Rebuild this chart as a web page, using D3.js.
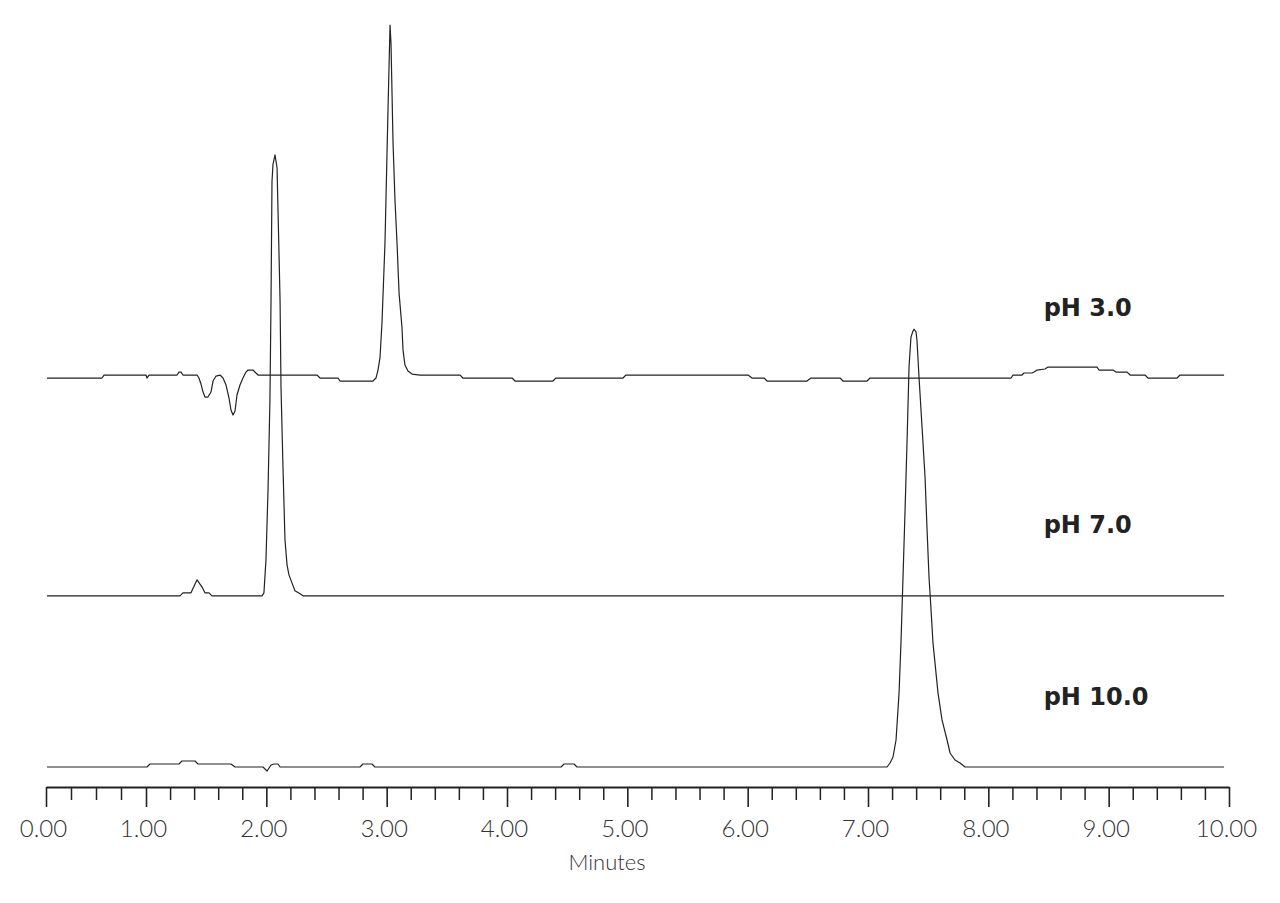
<!DOCTYPE html>
<html><head><meta charset="utf-8">
<script src="https://cdn.jsdelivr.net/npm/d3@7"></script>
<style>html,body{margin:0;padding:0;background:#fff;} svg{display:block;}</style>
</head><body>
<svg id="chart" width="1280" height="903"></svg>
<script>
// ---- data (time in minutes, signal in arbitrary absorbance units) ----
const ph3Time = [0.01,0.56,0.58,1.00,1.008,1.025,1.258,1.274,1.291,1.307,1.424,1.440,1.457,1.474,1.490,1.515,1.540,1.557,1.582,1.615,1.640,1.665,1.690,1.706,1.723,1.740,1.756,1.781,1.806,1.831,1.848,1.889,1.931,2.421,2.446,2.596,2.612,2.886,2.911,2.928,2.945,2.961,2.986,3.011,3.028,3.036,3.053,3.069,3.086,3.103,3.127,3.136,3.152,3.177,3.211,3.277,3.610,3.634,4.042,4.067,4.382,4.407,4.964,4.989,6.003,6.036,6.136,6.161,6.493,6.526,6.768,6.792,6.992,7.017,8.189,8.205,8.280,8.297,8.363,8.380,8.405,8.471,8.496,8.903,8.920,9.036,9.061,9.153,9.178,9.302,9.327,9.568,9.593,9.959];
const ph3Signal = [0,0,0.68,0.68,0,0.68,0.68,1.36,1.36,0.68,0.68,0,-1.36,-3.18,-4.32,-4.32,-3.18,-0.68,0.45,0.68,0,-1.59,-4.55,-7.27,-8.41,-7.5,-3.86,-1.59,0,1.36,1.82,1.82,0.68,0.68,0,0,-0.68,-0.68,0,1.82,4.77,12.5,30.7,60.9,80.2,76.1,53.4,40.5,30.7,19.3,11.6,6.36,2.95,1.59,0.91,0.68,0.68,0,0,-0.68,-0.68,0,0,0.68,0.68,0,0,-0.68,-0.68,0,0,-0.68,-0.68,0,0,0.68,0.68,1.14,1.14,1.36,1.82,2.05,2.5,2.5,1.82,1.82,1.36,1.36,0.68,0.68,0,0,0.68,0.68];

const ph7Time = [0.01,1.283,1.307,1.374,1.424,1.465,1.490,1.524,1.548,1.964,1.980,1.997,2.014,2.030,2.039,2.047,2.055,2.072,2.089,2.097,2.114,2.122,2.139,2.155,2.172,2.188,2.213,2.238,2.280,2.305,9.959];
const ph7Signal = [0,0,0.68,0.68,3.64,2.05,0.68,0.68,0,0,0.68,8.18,24,44.5,67.3,94.1,98,100.2,97.3,87.7,67.3,47.3,28.6,12.7,7.05,4.77,2.95,1.14,0.45,0,0];

const ph10Time = [0.01,1.008,1.033,1.274,1.299,1.407,1.432,1.706,1.740,1.972,2.006,2.039,2.064,2.097,2.114,2.778,2.803,2.878,2.903,4.449,4.474,4.557,4.582,7.158,7.183,7.208,7.233,7.258,7.274,7.291,7.308,7.324,7.341,7.357,7.374,7.382,7.399,7.407,7.424,7.449,7.474,7.490,7.507,7.524,7.540,7.582,7.615,7.657,7.682,7.723,7.765,7.806,9.959];
const ph10Signal = [0,0,0.68,0.68,1.36,1.36,0.68,0.68,0,0,-0.91,0.45,0.68,0.68,0,0,0.68,0.68,0,0,0.68,0.68,0,0,0.91,2.27,6.14,16.8,28.2,43.2,58.4,73.6,90.9,97.7,99.1,99.5,98.9,97.0,88.6,77.3,65.9,54.5,43.2,35.7,28.2,16.8,10.7,6.14,3.18,1.59,0.91,0,0];

const traceLabels = ["pH 3.0", "pH 7.0", "pH 10.0"];
const traceOffsets = [88.4, 38.9, 0];   // vertical stacking of chromatograms (signal units)

const majorTicks = [0,1,2,3,4,5,6,7,8,9,10];
const tickLabels = ["0.00","1.00","2.00","3.00","4.00","5.00","6.00","7.00","8.00","9.00","10.00"];
const minorTicks = [0.25,0.5,0.75].concat(d3.range(1,10).flatMap(m => [0.2,0.4,0.6,0.8].map(f => +(m+f).toFixed(1))));
const axisTitle = "Minutes";

// ---- chart ----
const svg = d3.select("#chart");
const ink = "#222";

const x = d3.scaleLinear().domain([0, 1, 10]).range([46, 146, 1229]);
const y = d3.scaleLinear().domain([0, 170]).range([767, 19]);

const traces = [
  {t: ph3Time, s: ph3Signal},
  {t: ph7Time, s: ph7Signal},
  {t: ph10Time, s: ph10Signal}
];

const line = d3.line().x(d => x(d[0])).y(d => y(d[1]));

traces.forEach((tr, i) => {
  const pts = tr.t.map((t, k) => [t, tr.s[k] + traceOffsets[i]]);
  svg.append("path")
    .datum(pts)
    .attr("d", line)
    .attr("fill", "none")
    .attr("stroke", ink)
    .attr("stroke-width", 1.2)
    .attr("stroke-linejoin", "round");
});

svg.selectAll("text.trace-label")
  .data(traceLabels)
  .join("text")
  .attr("class", "trace-label")
  .attr("x", x(8.46))
  .attr("y", (d, i) => y(traceOffsets[i] + 14.2))
  .attr("font-family", "'DejaVu Sans', sans-serif")
  .attr("font-weight", "bold")
  .attr("font-size", 24)
  .attr("fill", ink)
  .text(d => d);

// axis
const axisY = 787;
const gMinor = svg.append("g").attr("transform", `translate(0,${axisY})`)
  .call(d3.axisBottom(x).tickValues(minorTicks).tickSize(13).tickFormat(""));
gMinor.select(".domain").remove();
gMinor.selectAll("line").attr("stroke", ink).attr("stroke-width", 1.5);

const gMajor = svg.append("g").attr("transform", `translate(0,${axisY})`)
  .call(d3.axisBottom(x).tickValues(majorTicks).tickSize(20).tickSizeOuter(0)
        .tickFormat((d, i) => tickLabels[i]));
gMajor.select(".domain").attr("stroke", ink).attr("stroke-width", 2);
gMajor.selectAll("line").attr("stroke", ink).attr("stroke-width", 1.6);
gMajor.selectAll("text")
  .attr("y", 50).attr("dy", 0).attr("dx", -3)
  .attr("font-family", "Lato, 'Open Sans', sans-serif")
  .attr("font-weight", 300)
  .attr("font-size", 24)
  .attr("fill", "#333");

svg.append("text")
  .attr("x", 607).attr("y", 870)
  .attr("text-anchor", "middle")
  .attr("font-family", "Lato, 'Open Sans', sans-serif")
  .attr("font-weight", 300)
  .attr("font-size", 22)
  .attr("fill", "#333")
  .text(axisTitle);
</script>
</body></html>
